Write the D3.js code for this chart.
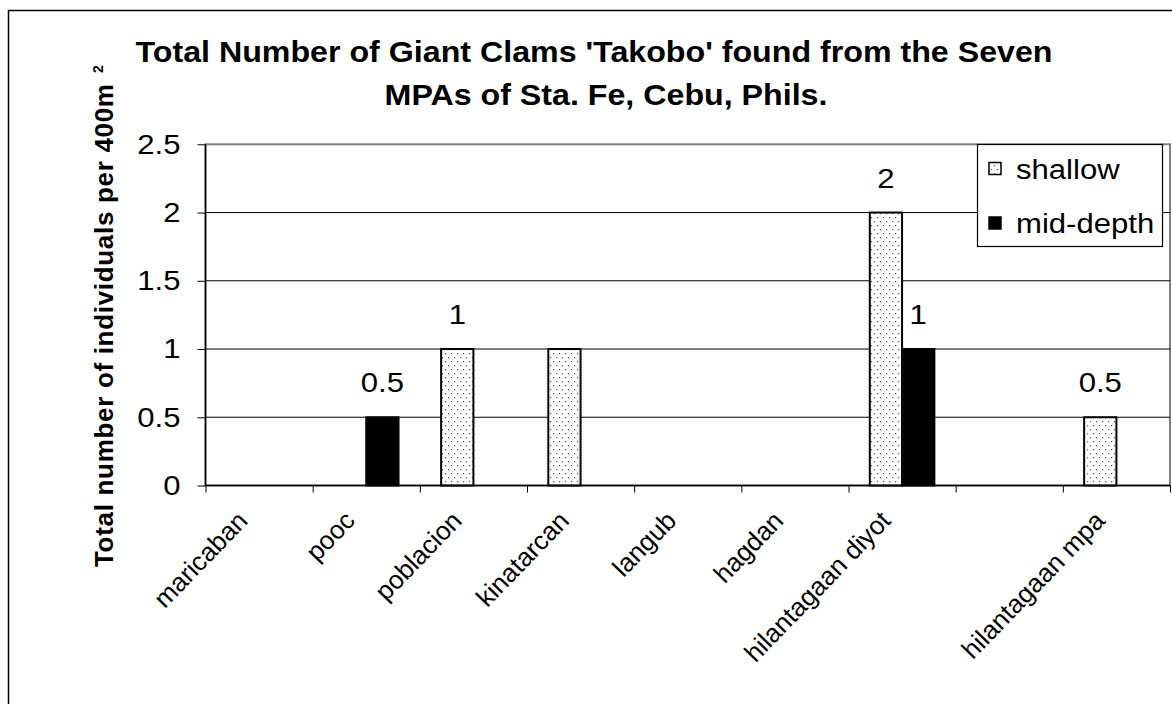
<!DOCTYPE html>
<html>
<head>
<meta charset="utf-8">
<script src="https://cdn.jsdelivr.net/npm/d3@7"></script>
<style>
  html, body { margin: 0; padding: 0; background: #fff; }
  svg { display: block; }
  text { font-family: "Liberation Sans", Arial, sans-serif; fill: #000; }
</style>
</head>
<body>
<svg id="chart" width="1172" height="704"></svg>
<script>
// Giant clam counts per MPA, shallow vs mid-depth transects
const categories = ["maricaban", "pooc", "poblacion", "kinatarcan", "langub", "hagdan", "hilantagaan diyot", "", "hilantagaan mpa"];
const seriesNames = ["shallow", "mid-depth"];
const shallow  = [0, 0,   1, 1, 0, 0, 2, null, 0.5];
const midDepth = [0, 0.5, 0, 0, 0, 0, 1, null, 0];
// which bars carry a value label
const shallowLabelled  = [false, false, true, false, false, false, true, false, true];
const midDepthLabelled = [false, true, false, false, false, false, true, false, false];
const yTicks = [0, 0.5, 1, 1.5, 2, 2.5];
const titleLines = ["Total Number of Giant Clams 'Takobo' found from the Seven", "MPAs of Sta. Fe, Cebu, Phils."];
const yLabel = "Total number of individuals per 400m";
const yLabelSup = "2";

const SX = 1.11; // horizontal text stretch
const svg = d3.select("#chart");

// outer chart frame
svg.append("rect").attr("x", 8.5).attr("y", 10.5).attr("width", 1200).attr("height", 720)
  .attr("fill", "#fff").attr("stroke", "#000").attr("stroke-width", 1.5);

const plot = { left: 205.5, right: 1170, top: 144.3, bottom: 485.5 };

const x0 = d3.scaleBand().domain(categories).range([plot.left, plot.right]).padding(0);
const x1 = d3.scaleBand().domain(seriesNames).range([0, x0.bandwidth()]).paddingInner(0).paddingOuter(0.66);
const xEdge = d3.scaleLinear().domain([0, categories.length]).range([plot.left, plot.right]);
const y = d3.scaleLinear().domain([0, 2.5]).range([plot.bottom, plot.top]);

// dotted fill for the shallow series
const defs = svg.append("defs");
const pat = defs.append("pattern").attr("id", "dots").attr("patternUnits", "userSpaceOnUse")
  .attr("width", 6).attr("height", 8);
pat.append("rect").attr("width", 6).attr("height", 8).attr("fill", "#fff");
pat.append("rect").attr("x", 1).attr("y", 1).attr("width", 1.2).attr("height", 1.2).attr("fill", "#555");
pat.append("rect").attr("x", 4).attr("y", 5).attr("width", 1.2).attr("height", 1.2).attr("fill", "#555");

// plot area border
svg.append("rect").attr("x", plot.left).attr("y", plot.top)
  .attr("width", plot.right - plot.left).attr("height", plot.bottom - plot.top)
  .attr("fill", "none").attr("stroke", "#808080").attr("stroke-width", 2);

// gridlines
svg.append("g").selectAll("line").data(yTicks.filter(v => v > 0 && v < 2.5)).join("line")
  .attr("x1", plot.left).attr("x2", plot.right)
  .attr("y1", d => y(d)).attr("y2", d => y(d))
  .attr("stroke", "#000").attr("stroke-width", 1);

// bars
const seriesData = [
  { name: "shallow", values: shallow, labelled: shallowLabelled, fill: "url(#dots)" },
  { name: "mid-depth", values: midDepth, labelled: midDepthLabelled, fill: "#000" }
];
const barRows = [];
seriesData.forEach(s => s.values.forEach((v, i) => {
  if (v) barRows.push({ cat: categories[i], series: s.name, value: v, labelled: s.labelled[i], fill: s.fill });
}));

svg.append("g").selectAll("rect").data(barRows).join("rect")
  .attr("x", d => x0(d.cat) + x1(d.series))
  .attr("y", d => y(d.value))
  .attr("width", x1.bandwidth())
  .attr("height", d => y(0) - y(d.value))
  .attr("fill", d => d.fill)
  .attr("stroke", "#000").attr("stroke-width", 2);

// value labels
const fmt = d3.format("~g");
svg.append("g").selectAll("text").data(barRows.filter(d => d.labelled)).join("text")
  .attr("transform", d => `translate(${x0(d.cat) + x1(d.series) + x1.bandwidth() / 2},${y(d.value) - 25}) scale(${SX},1)`)
  .attr("text-anchor", "middle").attr("font-size", 28)
  .text(d => fmt(d.value));

// y axis
const yAxis = svg.append("g").attr("transform", `translate(${plot.left},0)`)
  .call(d3.axisLeft(y).tickValues(yTicks).tickSize(8).tickPadding(17).tickFormat(fmt));
yAxis.select(".domain").attr("stroke", "#000").attr("stroke-width", 1.5).attr("d", `M0,${plot.top}V${plot.bottom}`);
yAxis.selectAll(".tick line").attr("stroke", "#000").attr("stroke-width", 1);
yAxis.selectAll(".tick text").attr("font-size", 28).attr("font-family", null)
  .attr("x", -25 / SX).attr("transform", `scale(${SX},1)`);

// x axis (ticks between categories)
const xAxis = svg.append("g").attr("transform", `translate(0,${plot.bottom})`)
  .call(d3.axisBottom(xEdge).tickValues(d3.range(categories.length + 1)).tickSize(7).tickFormat(""));
xAxis.select(".domain").attr("stroke", "#000").attr("stroke-width", 1.5).attr("d", `M${plot.left},0H${plot.right}`);
xAxis.selectAll(".tick line").attr("stroke", "#000").attr("stroke-width", 1);

// category labels, slanted at 45 degrees
svg.append("g").selectAll("text").data(categories.filter(c => c !== "")).join("text")
  .attr("transform", d => `translate(${x0(d) + x0.bandwidth() / 2 - 10},522) rotate(-46)`)
  .attr("text-anchor", "end").attr("font-size", 26)
  .text(d => d);

// title
const tl = [{ t: titleLines[0], x: 594, y: 62 }, { t: titleLines[1], x: 606, y: 105 }];
svg.append("g").selectAll("text").data(tl).join("text")
  .attr("transform", d => `translate(${d.x},${d.y}) scale(${SX},1)`)
  .attr("text-anchor", "middle").attr("font-size", 29).attr("font-weight", "bold")
  .text(d => d.t);

// y axis title with superscript
svg.append("text")
  .attr("transform", `translate(113,567) rotate(-90)`)
  .attr("font-size", 26).attr("font-weight", "bold")
  .attr("textLength", 483).attr("lengthAdjust", "spacing")
  .text(yLabel);
svg.append("text")
  .attr("transform", `translate(103,73) rotate(-90)`)
  .attr("font-size", 14).attr("font-weight", "bold")
  .text(yLabelSup);

// legend
const lg = svg.append("g");
lg.append("rect").attr("x", 977.5).attr("y", 144.5).attr("width", 185).attr("height", 102)
  .attr("fill", "#fff").attr("stroke", "#000").attr("stroke-width", 1.2);
const legendRows = [{ name: seriesNames[0], fill: "url(#dots)", cy: 168.5 }, { name: seriesNames[1], fill: "#000", cy: 223 }];
const lrow = lg.selectAll("g.row").data(legendRows).join("g").attr("class", "row");
lrow.append("rect").attr("x", 989).attr("y", d => d.cy - 6).attr("width", 12).attr("height", 12)
  .attr("fill", d => d.fill).attr("stroke", "#000").attr("stroke-width", 1.5);
lrow.append("text")
  .attr("transform", d => `translate(1016,${d.cy + 10}) scale(${SX},1)`)
  .attr("font-size", 28).text(d => d.name);
</script>
</body>
</html>
